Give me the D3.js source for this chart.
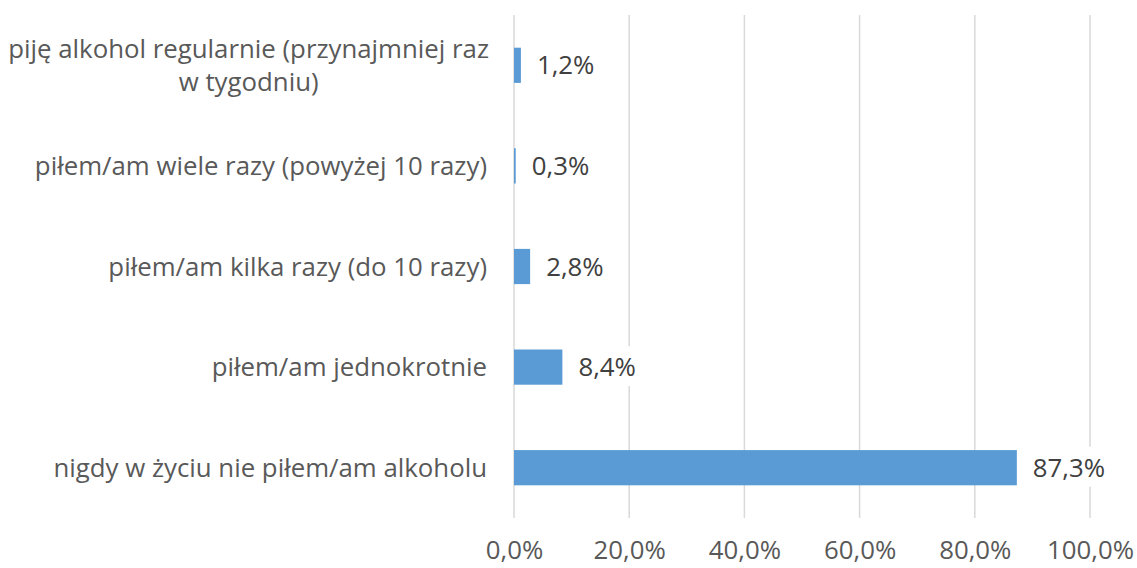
<!DOCTYPE html>
<html>
<head>
<meta charset="utf-8">
<script src="https://cdn.jsdelivr.net/npm/d3@7"></script>
<style>
  body { margin: 0; background: #fff; }
  text { font-family: "Open Sans", sans-serif; }
</style>
</head>
<body>
<div id="chart"></div>
<script>
// data, top to bottom
var categories = [
    ["piję alkohol regularnie (przynajmniej raz", "w tygodniu)"],
    ["piłem/am wiele razy (powyżej 10 razy)"],
    ["piłem/am kilka razy (do 10 razy)"],
    ["piłem/am jednokrotnie"],
    ["nigdy w życiu nie piłem/am alkoholu"]
];
var values = [1.2, 0.3, 2.8, 8.4, 87.3];
var ticks = [0, 20, 40, 60, 80, 100];

var width = 1137, height = 568;
var margin = { top: 15, right: 47, bottom: 50, left: 514 };
var innerW = width - margin.left - margin.right,
    innerH = height - margin.top - margin.bottom;
var fontSize = 25.8;

var fmt = function(v) { return v.toFixed(1).replace(".", ",") + "%"; };

var svg = d3.select("#chart").append("svg")
    .attr("width", width)
    .attr("height", height)
    .append("g")
    .attr("transform", "translate(" + margin.left + "," + margin.top + ")");

var xScale = d3.scaleLinear().domain([0, 100]).range([0, innerW]);
var yScale = d3.scaleBand()
    .domain(d3.range(categories.length))
    .range([0, innerH])
    .paddingInner(0.65)
    .paddingOuter(0.325);

// gridlines
svg.selectAll(".grid")
    .data(ticks)
    .enter().append("line")
    .attr("x1", function(d) { return xScale(d); })
    .attr("x2", function(d) { return xScale(d); })
    .attr("y1", 0)
    .attr("y2", innerH)
    .style("stroke", "#d9d9d9")
    .style("stroke-width", 1.5);

// x axis labels
var xAxis = svg.append("g")
    .attr("transform", "translate(0," + innerH + ")")
    .call(d3.axisBottom(xScale).tickValues(ticks).tickSize(0).tickPadding(23)
        .tickFormat(function(d) { return fmt(d); }));
xAxis.select(".domain").remove();
xAxis.selectAll("text")
    .style("font-size", fontSize + "px")
    .style("fill", "#595959")
    .style("font-family", "'Open Sans', sans-serif");

// bars
svg.selectAll(".bar")
    .data(values)
    .enter().append("rect")
    .attr("class", "bar")
    .attr("x", 0)
    .attr("y", function(d, i) { return yScale(i); })
    .attr("width", function(d) { return xScale(d); })
    .attr("height", yScale.bandwidth())
    .style("fill", "#5b9bd5");

// category labels
var cat = svg.selectAll(".cat")
    .data(categories)
    .enter().append("text")
    .attr("class", "cat")
    .style("font-size", fontSize + "px")
    .style("fill", "#595959");
cat.each(function(lines, i) {
    var t = d3.select(this);
    var cy = yScale(i) + yScale.bandwidth() / 2;
    var lh = 33;
    var y0 = cy - (lines.length - 1) * lh / 2;
    // multi-line labels are centred under the first line
    var w = 0;
    lines.forEach(function(s, k) {
        var ts = t.append("tspan").attr("y", y0 + k * lh).attr("dy", "0.35em").text(s);
        w = Math.max(w, ts.node().getComputedTextLength());
    });
    t.selectAll("tspan")
        .attr("x", lines.length > 1 ? -25 - w / 2 : -27)
        .attr("text-anchor", lines.length > 1 ? "middle" : "end");
});

// data labels with white background
var lab = svg.selectAll(".lab")
    .data(values)
    .enter().append("g")
    .attr("class", "lab");
lab.append("rect")
    .style("fill", "#fff");
lab.append("text")
    .attr("x", function(d) { return xScale(d) + 16; })
    .attr("y", function(d, i) { return yScale(i) + yScale.bandwidth() / 2; })
    .attr("dy", "0.35em")
    .style("font-size", fontSize + "px")
    .style("fill", "#404040")
    .text(function(d) { return fmt(d); });
lab.each(function() {
    var g = d3.select(this);
    var b = g.select("text").node().getBBox();
    g.select("rect")
        .attr("x", b.x - 4).attr("y", b.y - 2)
        .attr("width", b.width + 8).attr("height", b.height + 4);
});
</script>
</body>
</html>
